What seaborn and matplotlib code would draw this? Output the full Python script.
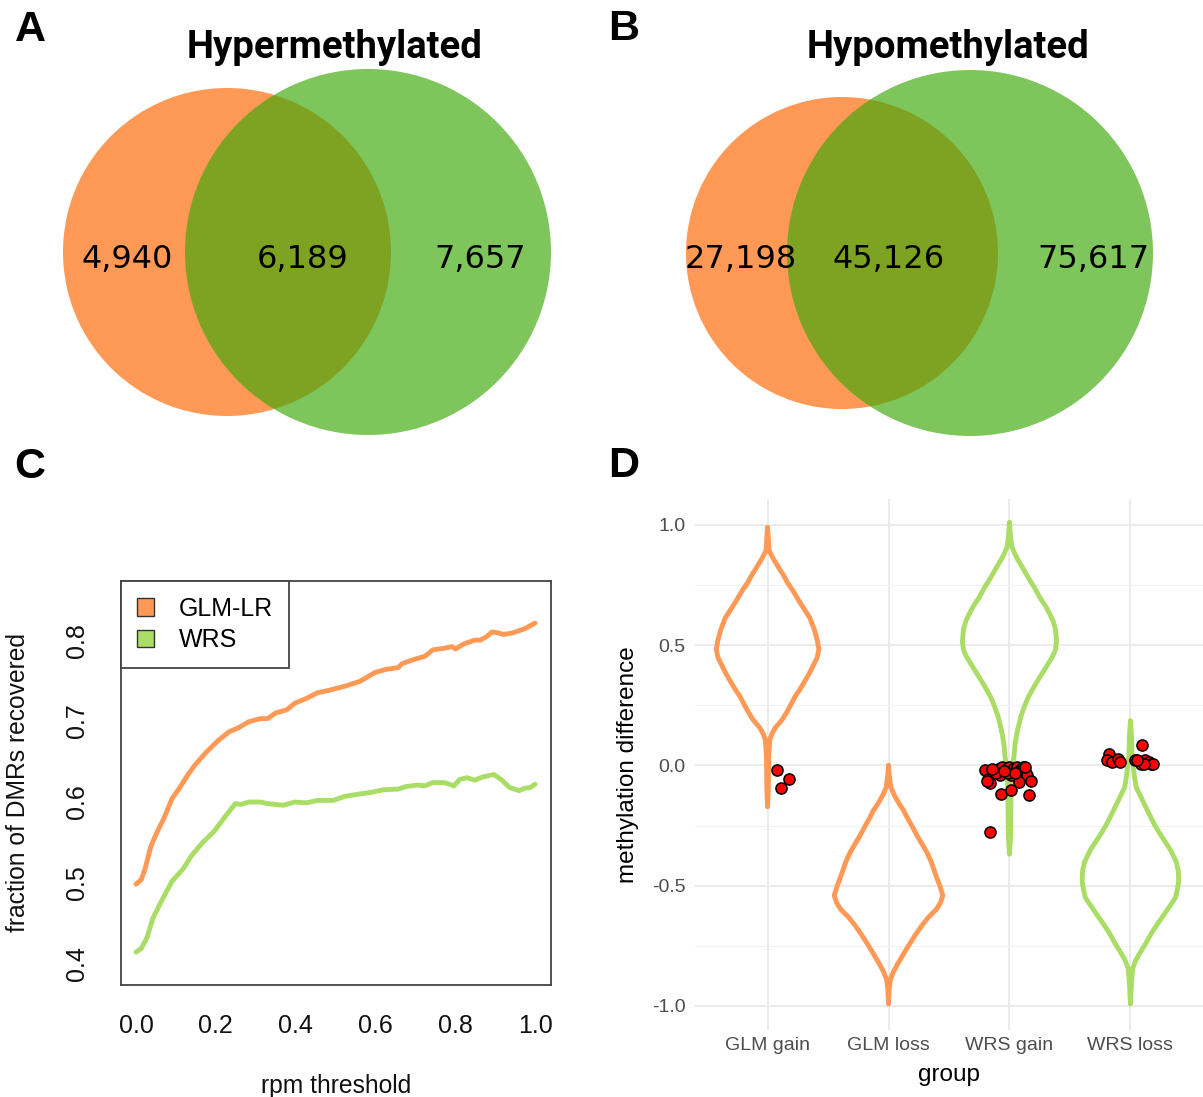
import numpy as np
import pandas as pd
import matplotlib
matplotlib.use("Agg")
import matplotlib.pyplot as plt
from matplotlib.patches import Circle, Patch
from matplotlib import font_manager
import seaborn as sns

# ---------------- data ----------------
# Venn counts (only A, overlap, only B)
hyper_counts = [4940, 6189, 7657]
hypo_counts = [27198, 45126, 75617]
venn_titles = ["Hypermethylated", "Hypomethylated"]

# Panel C: fraction of DMRs recovered vs rpm threshold
glm_x = [0, .013, .023, .037, .052, .071, .090, .11, .129, .148, .177, .206, .234, .254, .282,
         .311, .330, .35, .378, .398, .427, .455, .484, .523, .561, .599, .628, .657, .667, .696,
         .724, .744, .773, .792, .801, .82, .849, .863, .878, .892, .907, .921, .945, .974, 1.0]
glm_y = [.4985, .504, .518, .545, .562, .581, .604, .618, .633, .646, .662, .676, .687, .691, .699,
         .703, .703, .710, .714, .722, .728, .735, .738, .743, .749, .760, .764, .766, .771, .776,
         .780, .788, .790, .792, .789, .795, .800, .800, .804, .810, .809, .807, .809, .814, .821]
wrs_x = [0, .013, .028, .042, .061, .09, .119, .138, .167, .196, .225, .249, .263, .282, .311,
         .33, .369, .398, .427, .455, .494, .523, .561, .59, .619, .657, .676, .705, .724, .744,
         .773, .797, .811, .83, .849, .869, .897, .917, .936, .96, .974, .988, 1.0]
wrs_y = [.4146, .419, .433, .456, .475, .502, .518, .533, .550, .564, .583, .598, .597, .600, .600,
         .598, .596, .600, .599, .602, .602, .607, .610, .612, .615, .616, .619, .621, .620, .624,
         .624, .620, .628, .630, .627, .631, .634, .627, .618, .614, .617, .618, .622]
methods = ["GLM-LR", "WRS"]

# Panel D: violin outlines (value, half-width in category units)
groups = ["GLM gain", "GLM loss", "WRS gain", "WRS loss"]
vio_glm_gain_y = [0.99, 0.95, 0.893, 0.86, 0.82, 0.795, 0.76, 0.73, 0.69, 0.664, 0.64, 0.615, 0.566, 0.52,
                  0.484, 0.45, 0.418, 0.38, 0.336, 0.31, 0.287, 0.25, 0.221, 0.19, 0.156, 0.13, 0.107,
                  0.041, -0.1, -0.172]
vio_glm_gain_w = [0, .006, .013, .047, .095, .127, .165, .206, .253, .285, .316, .348, .386, .411, .424,
                  .411, .380, .342, .291, .259, .228, .190, .158, .120, .063, .035, .019, .009, .006, 0]
vio_glm_loss_y = [0.0, -0.04, -0.09, -0.123, -0.16, -0.189, -0.22, -0.254, -0.29, -0.32, -0.36, -0.402,
                  -0.44, -0.467, -0.5, -0.541, -0.57, -0.598, -0.63, -0.664, -0.7, -0.73, -0.76, -0.795,
                  -0.83, -0.861, -0.89, -0.93, -0.992]
vio_glm_loss_w = [0, .006, .019, .047, .089, .127, .158, .196, .234, .269, .316, .354, .380, .399, .424,
                  .449, .430, .396, .332, .278, .228, .190, .152, .111, .070, .038, .016, .006, 0]
vio_wrs_gain_y = [1.01, 0.95, 0.91, 0.88, 0.861, 0.82, 0.779, 0.74, 0.697, 0.66, 0.631, 0.6, 0.566, 0.516,
                  0.48, 0.451, 0.41, 0.369, 0.33, 0.287, 0.25, 0.205, 0.16, 0.123, 0.08, 0.041, 0.0,
                  -0.025, -0.123, -0.3, -0.369]
vio_wrs_gain_w = [0, .009, .019, .044, .063, .111, .158, .206, .253, .301, .332, .361, .380, .389, .380,
                  .354, .304, .253, .206, .158, .127, .095, .073, .057, .044, .038, .025, .019, .013,
                  .009, 0]
vio_wrs_loss_y = [0.185, 0.12, 0.041, 0.0, -0.041, -0.09, -0.123, -0.16, -0.205, -0.25, -0.287, -0.32,
                  -0.352, -0.402, -0.44, -0.484, -0.52, -0.549, -0.58, -0.615, -0.66, -0.697, -0.74,
                  -0.779, -0.81, -0.844, -0.9, -0.992]
vio_wrs_loss_w = [0, .009, .013, .022, .032, .047, .079, .114, .158, .203, .247, .291, .332, .380, .396,
                  .399, .386, .373, .332, .285, .222, .174, .127, .079, .044, .019, .009, 0]

# Panel D: outlier points (group index, jitter offset, value)
pts_group = [0] * 3 + [2] * 30 + [3] * 14
pts_offset = [0.079, 0.174, 0.114,
              -0.206, -0.174, -0.158, -0.127, -0.095, -0.079, -0.063, -0.032, 0.0, 0.016, 0.032, 0.063,
              0.079, 0.095, 0.111, 0.127, 0.142, 0.174, 0.158, -0.073, 0.009, 0.082, -0.158, -0.111,
              -0.184, -0.016, 0.047, -0.047, -0.142, 0.127,
              -0.174, -0.190, -0.152, -0.104, -0.089, 0.041, 0.098, 0.089, 0.117, 0.152, 0.174, 0.190,
              0.111, 0.057]
pts_value = [-0.020, -0.057, -0.093,
             -0.020, -0.057, -0.074, -0.025, -0.016, -0.041, -0.008, -0.016, -0.008, -0.041, -0.016,
             -0.008, -0.025, -0.016, -0.008, -0.025, -0.041, -0.066, -0.123, -0.118, -0.103, -0.070,
             -0.275, -0.033, -0.066, -0.033, -0.033, -0.025, -0.016, -0.008,
             0.049, 0.021, 0.013, 0.025, 0.013, 0.021, 0.084, 0.008, 0.021, 0.013, 0.005, 0.008, 0.008,
             0.021]

# ---------------- style ----------------
ORANGE = "#FF9955"
VENN_GREEN = (60 / 255, 168 / 255, 6 / 255)
LINE_GREEN = "#AADD66"

sns.set_style("white")
plt.rcParams["font.family"] = ["Liberation Sans", "DejaVu Sans"]
plt.rcParams["text.color"] = "black"
plt.rcParams["axes.labelcolor"] = "black"

names = {f.name for f in font_manager.fontManager.ttflist}
if "Liberation Sans Narrow" in names:
    title_font = dict(family="Liberation Sans Narrow", weight="bold", fontsize=31)
elif "Roboto" in names:
    title_font = dict(family="Roboto", weight="bold", fontsize=27.5)
else:
    title_font = dict(family="Liberation Sans", weight="bold", fontsize=26.4)

W, H = 1203, 1097
fig = plt.figure(figsize=(W / 100, H / 100), dpi=100)


def fx(px):
    return px / W


def fy(py):
    return 1 - py / H


# ---------------- Venn panels ----------------
venn_layout = [
    dict(ox=0, w=600, c1=(227, 252), r1=164, c2=(368, 252), r2=183,
         tx=[127, 303, 480], title_x=335),
    dict(ox=600, w=603, c1=(242, 253), r1=156, c2=(370, 253), r2=183,
         tx=[141, 289, 493], title_x=348),
]
for lay, counts, title in zip(venn_layout, [hyper_counts, hypo_counts], venn_titles):
    ax = fig.add_axes([fx(lay["ox"]), fy(450), fx(lay["w"]), 450 / H])
    ax.set_xlim(0, lay["w"])
    ax.set_ylim(450, 0)
    ax.axis("off")
    ax.add_patch(Circle(lay["c1"], lay["r1"], facecolor=ORANGE, edgecolor="none"))
    ax.add_patch(Circle(lay["c2"], lay["r2"], facecolor=VENN_GREEN, alpha=0.66, edgecolor="none"))
    for x, n in zip(lay["tx"], counts):
        ax.text(x, 259, f"{n:,}", ha="center", va="center", fontsize=23,
                family="DejaVu Sans", color="black")
    ax.text(lay["title_x"], 48, title, ha="center", va="center", color="black", **title_font)

# panel letters
for letter, (x, y) in zip("ABCD", [(30, 30), (624, 29), (30, 467), (624, 466)]):
    fig.text(fx(x), fy(y), letter, ha="center", va="center", fontsize=31,
             fontweight="bold", family="Liberation Sans", color="black")

# ---------------- Panel C ----------------
axc = fig.add_axes([fx(121), fy(985), fx(430), 404 / H])
df_c = pd.concat([
    pd.DataFrame({"rpm": glm_x, "frac": glm_y, "method": methods[0]}),
    pd.DataFrame({"rpm": wrs_x, "frac": wrs_y, "method": methods[1]}),
])
sns.lineplot(data=df_c, x="rpm", y="frac", hue="method", palette=[ORANGE, LINE_GREEN],
             linewidth=3.5, legend=False, ax=axc, estimator=None, sort=False)
axc.set_xlim(-0.0376, 1.04)
axc.set_ylim(0.374, 0.873)
axc.set_xticks([0, 0.2, 0.4, 0.6, 0.8, 1.0])
axc.set_xticklabels(["0.0", "0.2", "0.4", "0.6", "0.8", "1.0"])
axc.set_yticks([0.4, 0.5, 0.6, 0.7, 0.8])
axc.set_yticklabels(["0.4", "0.5", "0.6", "0.7", "0.8"], rotation=90, va="center")
for s in axc.spines.values():
    s.set_color("#444444")
    s.set_linewidth(1.3)
axc.tick_params(axis="both", direction="out", length=11, width=1.2, color="#444444",
                labelsize=18, labelcolor="#111111")
axc.tick_params(axis="x", pad=10)
axc.tick_params(axis="y", pad=12)
axc.set_xlabel("rpm threshold", fontsize=17.7, color="#111111")
axc.set_ylabel("fraction of DMRs recovered", fontsize=17.7, color="#111111")
axc.xaxis.set_label_coords(0.5, (985 - 1086) / 404)
axc.xaxis.label.set_va("center")
axc.yaxis.set_label_coords((18 - 121) / 430, 0.5)
axc.yaxis.label.set_va("center")
handles = [Patch(facecolor=ORANGE, edgecolor="#333333", linewidth=1),
           Patch(facecolor=LINE_GREEN, edgecolor="#333333", linewidth=1)]
leg = axc.legend(handles, methods, loc="upper left", bbox_to_anchor=(0, 1), borderaxespad=0,
                 fancybox=False, fontsize=18, handlelength=0.7, handleheight=0.7,
                 handletextpad=1.0, borderpad=0.62, labelspacing=0.3, framealpha=1)
leg.get_frame().set_edgecolor("#444444")
leg.get_frame().set_linewidth(1.3)

# ---------------- Panel D ----------------
axd = fig.add_axes([fx(695), fy(1030), fx(508), 531 / H])
axd.set_xlim(-0.6, 3.6)
axd.set_ylim(-1.1, 1.108)
for s in axd.spines.values():
    s.set_visible(False)
axd.set_yticks([-1.0, -0.5, 0.0, 0.5, 1.0])
axd.set_yticklabels(["-1.0", "-0.5", "0.0", "0.5", "1.0"])
axd.set_yticks([-0.75, -0.25, 0.25, 0.75], minor=True)
axd.set_xticks(range(len(groups)))
axd.set_xticklabels(groups)
axd.grid(True, which="major", color="#EBEBEB", linewidth=1.4)
axd.grid(True, which="minor", axis="y", color="#F2F2F2", linewidth=0.8)
axd.set_axisbelow(True)
axd.tick_params(axis="both", which="both", length=0, labelsize=14, labelcolor="#4D4D4D")
axd.tick_params(axis="y", pad=7)
axd.tick_params(axis="x", pad=5)

vio = [(vio_glm_gain_y, vio_glm_gain_w, ORANGE),
       (vio_glm_loss_y, vio_glm_loss_w, ORANGE),
       (vio_wrs_gain_y, vio_wrs_gain_w, LINE_GREEN),
       (vio_wrs_loss_y, vio_wrs_loss_w, LINE_GREEN)]
for i, (yy, ww, col) in enumerate(vio):
    yy = np.asarray(yy)
    ww = np.asarray(ww)
    xs = np.concatenate([i + ww, (i - ww)[::-1]])
    ys = np.concatenate([yy, yy[::-1]])
    axd.plot(xs, ys, color=col, linewidth=3.5, solid_joinstyle="round", solid_capstyle="round")

df_p = pd.DataFrame({"x": np.asarray(pts_group) + np.asarray(pts_offset), "y": pts_value})
sns.scatterplot(data=df_p, x="x", y="y", color="#FF0000", edgecolor="black", linewidth=1.1,
                s=64, ax=axd, zorder=5)
axd.set_xlabel("group", fontsize=17.5, color="black")
axd.set_ylabel("methylation difference", fontsize=17.5, color="black")
axd.xaxis.set_label_coords(0.5, (1030 - 1075) / 531)
axd.xaxis.label.set_va("center")
axd.yaxis.set_label_coords((628 - 695) / 508, 0.5)
axd.yaxis.label.set_va("center")

fig.savefig("out.png", dpi=100)
